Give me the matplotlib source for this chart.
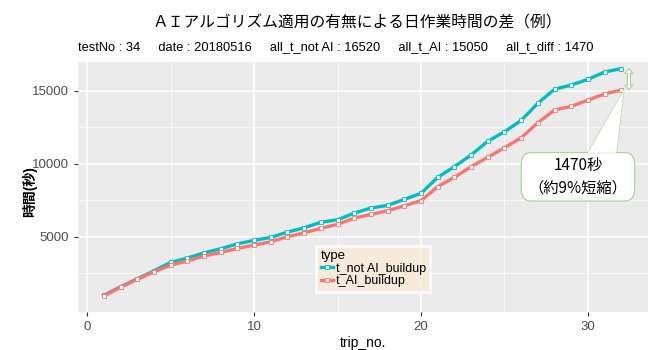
import matplotlib.pyplot as plt
from matplotlib.patches import FancyBboxPatch, Polygon

plt.rcParams['font.family'] = ['Liberation Sans', 'Noto Sans CJK JP', 'DejaVu Sans']

# cumulative work time per trip (seconds)
trip_no = list(range(1, 33))
t_not_ai = [990, 1580, 2120, 2670, 3250, 3540, 3900, 4180, 4520, 4750,
            4960, 5320, 5620, 5990, 6170, 6620, 6970, 7150, 7560, 7970,
            9070, 9800, 10600, 11540, 12190, 12970, 14140, 15100, 15390, 15780,
            16280, 16520]
t_ai = [950, 1540, 2080, 2600, 3060, 3340, 3680, 3930, 4200, 4430,
        4660, 5000, 5270, 5580, 5850, 6280, 6530, 6780, 7120, 7470,
        8430, 9070, 9800, 10440, 11100, 11780, 12810, 13680, 13930, 14360,
        14780, 15050]
series_names = ['t_not AI_buildup', 't_AI_buildup']
colors = ['#00BFC4', '#F8766D']

test_no = 34
date = '20180516'
diff = t_not_ai[-1] - t_ai[-1]
pct = round(diff / t_not_ai[-1] * 100)

fig = plt.figure(figsize=(6.5, 3.5), dpi=100)
ax = fig.add_axes([0.12, 0.109, 0.877, 0.714])
ax.set_facecolor('#EBEBEB')
for s in ax.spines.values():
    s.set_visible(False)

ax.set_xlim(-0.55, 33.6)
ax.set_ylim(-140, 16970)
ax.set_xticks([0, 10, 20, 30])
ax.set_xticks([5, 15, 25], minor=True)
ax.set_yticks([5000, 10000, 15000])
ax.set_yticks([2500, 7500, 12500], minor=True)
ax.grid(which='major', color='white', lw=1.1)
ax.grid(which='minor', color='white', lw=0.5)
ax.set_axisbelow(True)
ax.tick_params(which='major', colors='#333333', labelcolor='#4D4D4D',
               labelsize=9.5, length=3, width=0.8)
ax.tick_params(which='minor', length=0)

for y, name, c in zip([t_not_ai, t_ai], series_names, colors):
    ax.plot(trip_no, y, color=c, lw=2.4, marker='s', ms=3.2,
            mfc='white', mec=c, mew=0.6, label=name)

ax.set_xlabel('trip_no.', fontsize=10, labelpad=2)
ax.set_ylabel('時間(秒)', fontsize=10, fontweight='bold', va='center')
ax.yaxis.set_label_coords(-0.084, 0.48)

leg = ax.legend(title='type', loc='lower left', bbox_to_anchor=(0.418, 0.08),
                fontsize=9, title_fontsize=9.5, frameon=True, fancybox=False,
                handlelength=1.0, handletextpad=0.2, borderpad=0.35,
                labelspacing=0.05, borderaxespad=0)
leg.get_frame().set_facecolor('#FAEBD7')
leg.get_frame().set_edgecolor('white')
leg.get_frame().set_linewidth(2.0)
leg._legend_box.align = 'left'

# double arrow showing the gap at the last trip
x0 = 32.45
lo, hi = t_ai[-1], t_not_ai[-1]
sw, hw, hl = 0.09, 0.24, 340
arrow_pts = [(x0 - sw, lo + hl), (x0 - hw, lo + hl), (x0, lo), (x0 + hw, lo + hl),
             (x0 + sw, lo + hl), (x0 + sw, hi - hl), (x0 + hw, hi - hl), (x0, hi),
             (x0 - hw, hi - hl), (x0 - sw, hi - hl)]
ax.add_patch(Polygon(arrow_pts, closed=True, fc='white', ec='#A9D18E', lw=0.8, zorder=5))

# callout box
green = '#A9D18E'
bx0, bx1, by0, by1 = 26.0, 32.8, 7450, 10760
wedge = [(30.0, by1 - 10), (31.7, by1 - 10), (32.15, lo)]
ax.add_patch(Polygon(wedge, closed=True, fc='white', ec=green, lw=0.8, zorder=6))
box = FancyBboxPatch((bx0, by0), bx1 - bx0, by1 - by0,
                     boxstyle='round,pad=0,rounding_size=0.55',
                     mutation_aspect=1600, fc='white', ec=green, lw=0.8, zorder=7)
ax.add_patch(box)
ax.add_patch(Polygon(wedge, closed=True, fc='white', ec='none', zorder=8))
ax.text((bx0 + bx1) / 2, (by0 + by1) / 2, f'{diff}秒\n（約{pct}%短縮）',
        ha='center', va='center', fontsize=11, linespacing=1.45,
        family=['Noto Sans CJK JP'], zorder=9)

fig.text(0.55, 0.935, 'ＡＩアルゴリズム適用の有無による日作業時間の差（例）',
         ha='center', va='center', fontsize=11.3, family=['Noto Sans CJK JP'])
subtitle = (f'testNo : {test_no}     date : {date}     all_t_not AI : {t_not_ai[-1]}     '
            f'all_t_AI : {t_ai[-1]}     all_t_diff : {diff}')
fig.text(0.12, 0.865, subtitle, ha='left', va='center', fontsize=9.3)

fig.savefig('out.png', dpi=100)
